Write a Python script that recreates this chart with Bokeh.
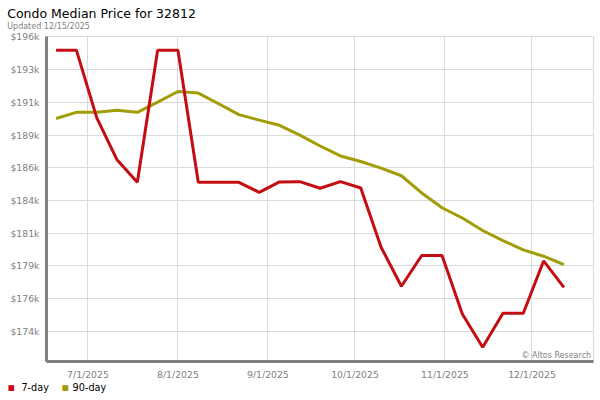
from datetime import datetime
from bokeh.plotting import figure
from bokeh.models import (FixedTicker, CustomJSTickFormatter, Range1d, Label,
                          ColumnDataSource, Title)
from bokeh.embed import file_html
from bokeh.resources import INLINE

# ---- data ----
dates = ["2025-06-20", "2025-06-27", "2025-07-04", "2025-07-11", "2025-07-18",
         "2025-07-25", "2025-08-01", "2025-08-08", "2025-08-15", "2025-08-22",
         "2025-08-29", "2025-09-05", "2025-09-12", "2025-09-19", "2025-09-26",
         "2025-10-03", "2025-10-10", "2025-10-17", "2025-10-24", "2025-10-31",
         "2025-11-07", "2025-11-14", "2025-11-21", "2025-11-28", "2025-12-05",
         "2025-12-12"]
day7 = [194870, 194870, 189860, 186720, 185050, 194870, 194870, 185050, 185050,
        185050, 184310, 185080, 185100, 184610, 185100, 184630, 180230, 177330,
        179610, 179610, 175270, 172790, 175320, 175320, 179210, 177250]
day90 = [189790, 190250, 190250, 190400, 190250, 191010, 191800, 191680, 190890,
         190080, 189670, 189290, 188560, 187750, 187010, 186600, 186110, 185540,
         184260, 183160, 182400, 181470, 180720, 180030, 179560, 178940]
x_ticks = ["2025-07-01", "2025-08-01", "2025-09-01", "2025-10-01", "2025-11-01",
           "2025-12-01"]
y_ticks = [173980, 176410, 178840, 181270, 183700, 186130, 188560, 190990,
           193420, 195850]
series_names = ["7-day", "90-day"]
title_text = "Condo Median Price for 32812"
subtitle_text = "Updated 12/15/2025"
credit_text = "\u00a9 Altos Research"

RED = "#c40d12"
OLIVE = "#a19d06"
GRAY = "#808080"
FONT = "DejaVu Sans"
ASC, DESC = 0.928, 0.236   # font metrics (em)

def ms(s):
    return (datetime.strptime(s, "%Y-%m-%d") - datetime(1970, 1, 1)).total_seconds() * 1000.0

xs = [ms(d) for d in dates]
DAY = 86400000.0
FRAME_LEFT = 46

p = figure(width=600, height=400, output_backend="svg", toolbar_location=None,
           x_axis_type="datetime", title=None,
           x_range=Range1d(ms("2025-06-16") + 0.7 * DAY, ms("2025-12-22") + 0.2 * DAY),
           y_range=Range1d(171736, 195887),
           min_border_left=FRAME_LEFT, min_border_right=7, min_border_top=36,
           min_border_bottom=37)
p.background_fill_color = "white"
p.border_fill_color = "white"
p.outline_line_color = "#d8d8d8"
p.outline_line_width = 1

p.xgrid.ticker = FixedTicker(ticks=[ms(d) for d in x_ticks])
p.ygrid.ticker = FixedTicker(ticks=y_ticks)
for g in (p.xgrid, p.ygrid):
    g.grid_line_color = "#dadada"
    g.grid_line_width = 1

p.xaxis.ticker = FixedTicker(ticks=[ms(d) for d in x_ticks])
p.xaxis.formatter = CustomJSTickFormatter(code="""
const d = new Date(tick);
return (d.getUTCMonth()+1) + '/' + d.getUTCDate() + '/' + d.getUTCFullYear();
""")
p.yaxis.ticker = FixedTicker(ticks=y_ticks)
p.yaxis.formatter = CustomJSTickFormatter(code="return '$' + Math.round(tick/1000) + 'k';")
for ax in (p.xaxis, p.yaxis):
    ax.axis_line_color = GRAY
    ax.axis_line_width = 3
    ax.major_tick_line_color = None
    ax.minor_tick_line_color = None
    ax.major_tick_out = 0
    ax.major_tick_in = 0
    ax.major_label_text_color = GRAY
    ax.major_label_text_font = FONT
    ax.major_label_text_font_size = "9.3px"
p.xaxis.major_label_standoff = 7
p.yaxis.major_label_standoff = 7

src = ColumnDataSource(dict(x=xs, d7=day7, d90=day90))
p.line("x", "d90", source=src, line_color=OLIVE, line_width=3)
p.line("x", "d7", source=src, line_color=RED, line_width=3)

# ---- titles (first added sits next to the frame) ----
def ttl(text, size, color, x, standoff, valign="bottom"):
    return Title(text=text, align="left", offset=x - FRAME_LEFT, standoff=standoff,
                 vertical_align=valign, text_font=FONT, text_font_size=f"{size}px",
                 text_font_style="normal", text_color=color)

p.add_layout(ttl(subtitle_text, 8, GRAY, 6.7, 6.82, "top"), "above")
p.add_layout(ttl(title_text, 12.5, "black", 6.7, -4.76), "above")
p.add_layout(ttl(" ", 8, "white", 0, -5.23), "above")

# ---- legend (rows below the x axis) ----
AXIS_H = 17.8                    # estimated x-axis panel height
row_top = 385.6                  # y where the zero-height legend rows sit
sp1 = row_top - 363 - AXIS_H     # spacer height
def spacer(h):
    return ttl(" ", 8, "white", 0, h - 2 - 8 * (ASC + DESC))
def zero_row(text, size, color, x):
    return ttl(text, size, color, x, -(2 + size * (ASC + DESC)))

p.add_layout(spacer(sp1), "below")
p.add_layout(zero_row("\u25a0", 7.5, RED, 7.3), "below")
p.add_layout(zero_row(series_names[0], 9.7, "black", 20.9), "below")
p.add_layout(zero_row("\u25a0", 7.5, OLIVE, 61.3), "below")
p.add_layout(zero_row(series_names[1], 9.7, "black", 72.1), "below")
p.add_layout(spacer(37 - AXIS_H - sp1), "below")

p.add_layout(Label(x=544.6, y=6, x_units="screen", y_units="screen",
                   text=credit_text, text_font=FONT,
                   text_font_size="8px", text_color=GRAY, text_align="right",
                   text_baseline="middle"))

open("out.html", "w").write(file_html(p, INLINE))
